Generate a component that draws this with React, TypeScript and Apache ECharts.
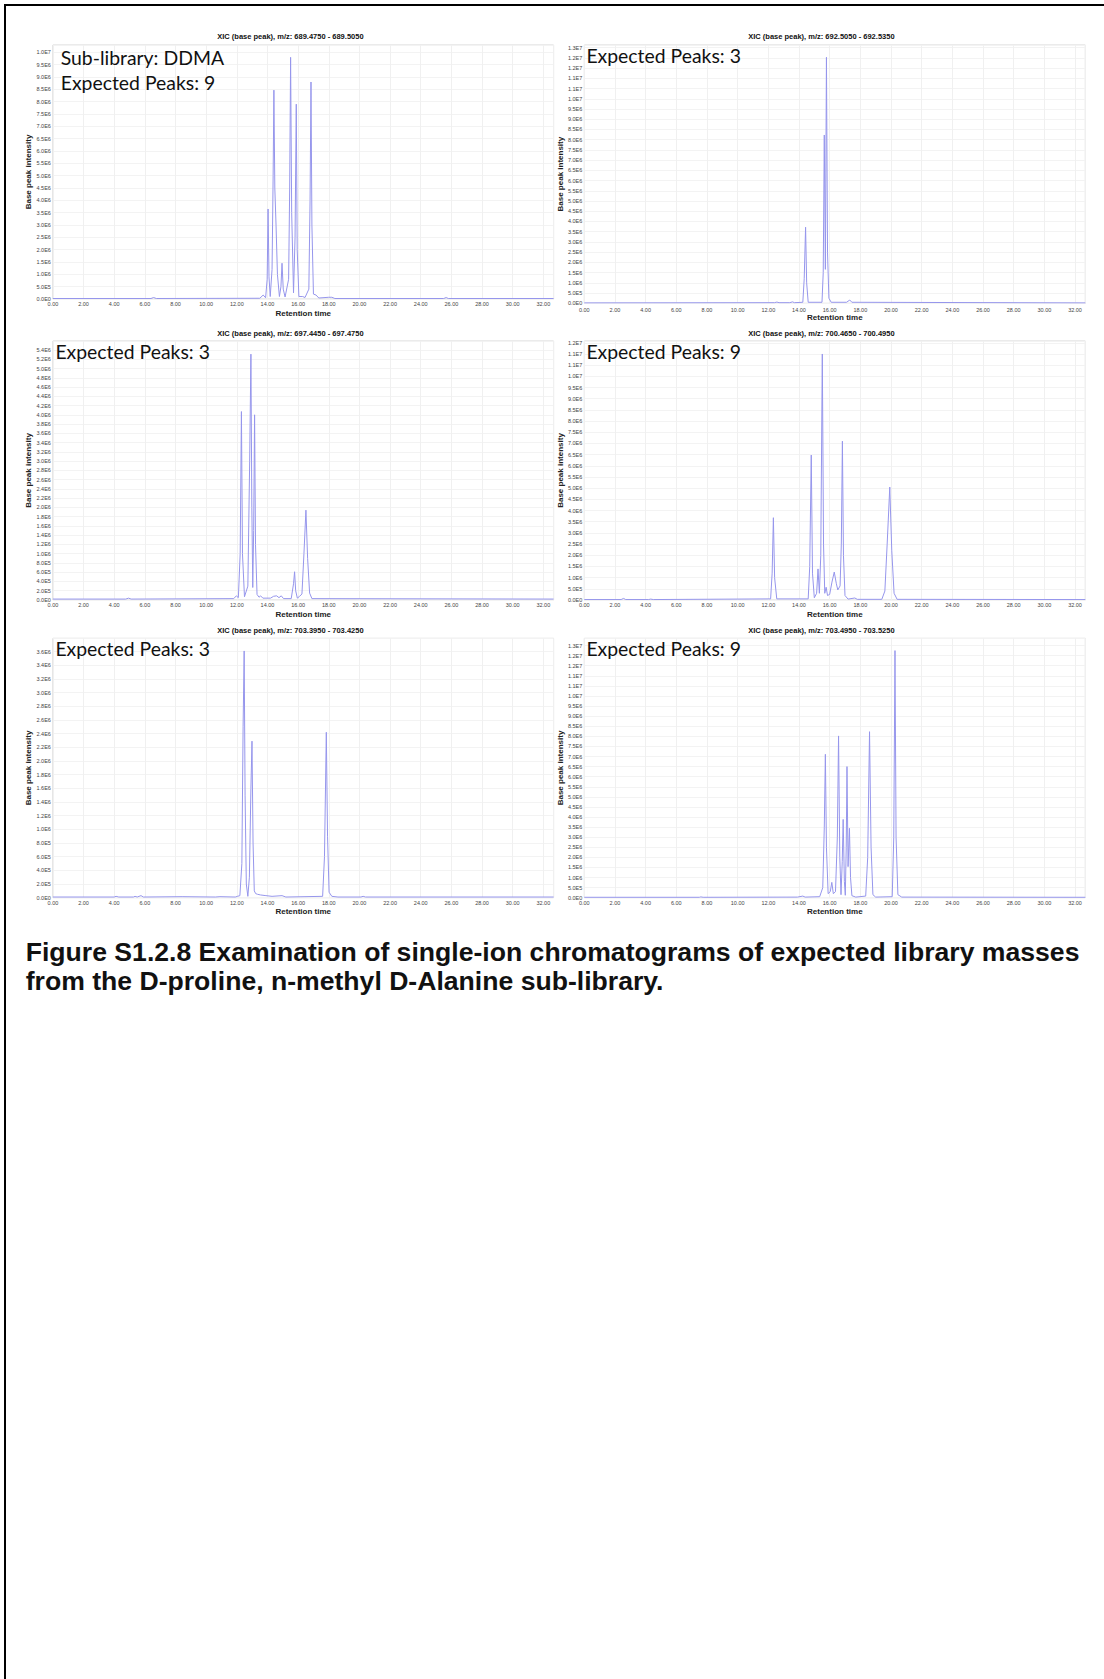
import React, { useEffect, useRef } from 'react';
import * as echarts from 'echarts';

// ---------------- data ----------------
const panelTitles = [
  'XIC (base peak), m/z: 689.4750 - 689.5050',
  'XIC (base peak), m/z: 692.5050 - 692.5350',
  'XIC (base peak), m/z: 697.4450 - 697.4750',
  'XIC (base peak), m/z: 700.4650 - 700.4950',
  'XIC (base peak), m/z: 703.3950 - 703.4250',
  'XIC (base peak), m/z: 703.4950 - 703.5250',
];
const panelNotes = [
  ['Sub-library: DDMA', 'Expected Peaks: 9'],
  ['Expected Peaks: 3'],
  ['Expected Peaks: 3'],
  ['Expected Peaks: 9'],
  ['Expected Peaks: 3'],
  ['Expected Peaks: 9'],
];
const caption = [
  'Figure S1.2.8 Examination of single-ion chromatograms of expected library masses',
  'from the D-proline, n-methyl D-Alanine sub-library.',
];
const xName = 'Retention time';
const yName = 'Base peak intensity';
const xMin = 0;
const xMax = 32.67;
const xStep = 2;
const yMax = [1.03e7, 1.263e7, 5.594e6, 1.158e7, 3.795e6, 1.286e7];
const yStep = [5e5, 5e5, 2e5, 5e5, 2e5, 5e5];

// [retention time, intensity]
const xic689 = [
  [0, 0.02e6], [6.4, 0.02e6], [6.57, 0.06e6], [6.75, 0.02e6], [13.5, 0.03e6], [13.72, 0.16e6],
  [13.88, 0.05e6], [13.98, 0.8e6], [14.04, 3.65e6], [14.1, 0.9e6], [14.18, 0.1e6], [14.3, 1.2e6],
  [14.37, 5.0e6], [14.42, 8.47e6], [14.48, 4.5e6], [14.56, 3.0e6], [14.65, 1.0e6], [14.78, 0.1e6],
  [14.88, 0.5e6], [14.95, 1.45e6], [15.03, 0.4e6], [15.15, 0.08e6], [15.38, 0.8e6], [15.45, 4.5e6],
  [15.51, 9.8e6], [15.58, 3.5e6], [15.7, 0.25e6], [15.8, 2.5e6], [15.88, 7.9e6], [15.94, 2.0e6],
  [16.05, 0.1e6], [16.3, 0.1e6], [16.45, 0.06e6], [16.7, 0.4e6], [16.78, 4.0e6], [16.84, 8.8e6],
  [16.9, 3.0e6], [17.0, 0.2e6], [17.17, 0.16e6], [17.35, 0.04e6], [18.0, 0.07e6], [18.2, 0.07e6],
  [18.4, 0.02e6], [25.5, 0.02e6], [25.66, 0.06e6], [25.8, 0.02e6], [32.67, 0.02e6],
];
const xic692 = [
  [0, 0.02e6], [12.4, 0.03e6], [12.56, 0.06e6], [12.7, 0.03e6], [13.4, 0.03e6], [13.58, 0.07e6],
  [13.7, 0.03e6], [14.25, 0.05e6], [14.34, 1.2e6], [14.43, 3.72e6], [14.5, 1.0e6], [14.6, 0.05e6],
  [15.5, 0.05e6], [15.58, 1.5e6], [15.65, 8.23e6], [15.72, 1.66e6], [15.79, 12.03e6], [15.86, 2.5e6],
  [15.95, 0.25e6], [16.1, 0.05e6], [17.1, 0.05e6], [17.31, 0.16e6], [17.45, 0.05e6], [32.67, 0.02e6],
];
const xic697 = [
  [0, 0.02e6], [4.75, 0.02e6], [4.94, 0.04e6], [5.1, 0.02e6], [11.8, 0.03e6], [11.97, 0.09e6],
  [12.1, 0.05e6], [12.22, 1.0e6], [12.3, 4.07e6], [12.37, 1.0e6], [12.5, 0.07e6], [12.72, 0.3e6],
  [12.84, 3.0e6], [12.92, 5.31e6], [12.98, 2.0e6], [13.04, 0.27e6], [13.1, 1.5e6], [13.16, 4.0e6],
  [13.22, 1.2e6], [13.32, 0.12e6], [13.45, 0.06e6], [13.55, 0.09e6], [13.7, 0.04e6], [14.2, 0.04e6],
  [14.4, 0.08e6], [14.6, 0.09e6], [14.75, 0.05e6], [14.9, 0.09e6], [15.05, 0.03e6], [15.55, 0.03e6],
  [15.7, 0.35e6], [15.77, 0.61e6], [15.84, 0.2e6], [15.95, 0.04e6], [16.1, 0.08e6], [16.25, 0.13e6],
  [16.38, 1.0e6], [16.51, 1.94e6], [16.62, 0.9e6], [16.75, 0.15e6], [16.9, 0.03e6], [32.67, 0.02e6],
];
const xic700 = [
  [0, 0.02e6], [2.4, 0.02e6], [2.56, 0.07e6], [2.7, 0.02e6], [4.2, 0.02e6], [4.33, 0.04e6],
  [4.5, 0.02e6], [12.15, 0.05e6], [12.25, 1.2e6], [12.33, 3.68e6], [12.41, 1.0e6], [12.55, 0.05e6],
  [14.6, 0.05e6], [14.7, 1.5e6], [14.8, 6.48e6], [14.88, 1.2e6], [15.0, 0.1e6], [15.15, 0.3e6],
  [15.24, 1.39e6], [15.33, 0.3e6], [15.42, 2.0e6], [15.52, 11.0e6], [15.6, 2.5e6], [15.68, 0.3e6],
  [15.77, 0.57e6], [15.86, 0.2e6], [16.0, 0.25e6], [16.15, 0.8e6], [16.3, 1.25e6], [16.43, 0.75e6],
  [16.53, 0.45e6], [16.68, 0.63e6], [16.76, 2.5e6], [16.83, 7.1e6], [16.9, 2.0e6], [17.0, 0.2e6],
  [17.2, 0.04e6], [17.64, 0.09e6], [17.8, 0.03e6], [19.4, 0.03e6], [19.6, 0.4e6], [19.75, 2.5e6],
  [19.92, 5.05e6], [20.05, 2.2e6], [20.2, 0.3e6], [20.4, 0.03e6], [32.67, 0.02e6],
];
const xic703a = [
  [0, 0.01e6], [4.0, 0.01e6], [4.12, 0.02e6], [4.3, 0.01e6], [5.25, 0.01e6], [5.36, 0.02e6],
  [5.5, 0.01e6], [5.75, 0.03e6], [5.9, 0.01e6], [8.43, 0.015e6], [10.6, 0.01e6], [10.9, 0.015e6],
  [11.9, 0.01e6], [12.04, 0.02e6], [12.2, 0.03e6], [12.33, 0.5e6], [12.41, 2.5e6], [12.48, 3.61e6],
  [12.54, 1.5e6], [12.62, 0.2e6], [12.72, 0.02e6], [12.82, 0.3e6], [12.92, 1.6e6], [12.99, 2.29e6],
  [13.06, 0.8e6], [13.14, 0.1e6], [13.23, 0.06e6], [13.35, 0.05e6], [13.55, 0.04e6], [13.9, 0.03e6],
  [14.3, 0.02e6], [14.95, 0.03e6], [15.2, 0.01e6], [17.6, 0.02e6], [17.72, 0.6e6], [17.84, 2.42e6],
  [17.92, 0.9e6], [18.02, 0.08e6], [18.2, 0.02e6], [18.6, 0.01e6], [20.1, 0.01e6], [20.24, 0.02e6],
  [20.4, 0.01e6], [32.67, 0.01e6],
];
const xic703b = [
  [0, 0.02e6], [7.5, 0.02e6], [7.6, 0.04e6], [7.75, 0.02e6], [13.9, 0.03e6], [14.25, 0.08e6],
  [14.4, 0.03e6], [15.35, 0.05e6], [15.55, 0.5e6], [15.65, 3.5e6], [15.72, 7.11e6], [15.79, 2.5e6],
  [15.9, 0.2e6], [16.04, 0.3e6], [16.14, 0.76e6], [16.24, 0.2e6], [16.38, 0.3e6], [16.5, 3.0e6],
  [16.58, 8.02e6], [16.66, 2.0e6], [16.74, 0.15e6], [16.82, 1.8e6], [16.88, 3.88e6], [16.96, 0.8e6],
  [17.02, 0.12e6], [17.08, 2.5e6], [17.13, 6.5e6], [17.2, 1.54e6], [17.29, 3.44e6], [17.36, 1.0e6],
  [17.45, 0.1e6], [17.7, 0.03e6], [18.35, 0.08e6], [18.48, 2.0e6], [18.6, 8.23e6], [18.7, 2.5e6],
  [18.82, 0.15e6], [19.0, 0.03e6], [20.08, 0.05e6], [20.18, 3.0e6], [20.26, 12.25e6], [20.33, 3.0e6],
  [20.45, 0.15e6], [20.7, 0.03e6], [32.67, 0.02e6],
];
const panelData = [xic689, xic692, xic697, xic700, xic703a, xic703b];

// ---------------- layout ----------------
const W = 1104;
const H = 1679;
const grids = [
  { left: 52.9, top: 45, width: 500.7, height: 254 },
  { left: 584.3, top: 45, width: 501, height: 258.3 },
  { left: 52.9, top: 341, width: 500.7, height: 259 },
  { left: 584.3, top: 341, width: 501, height: 259 },
  { left: 52.9, top: 638.3, width: 500.7, height: 259.4 },
  { left: 584.3, top: 638.3, width: 501, height: 259.4 },
];
const titlePos = [[290.4, 36.7], [821.4, 36.7], [290.4, 333.3], [821.4, 333.3], [290.4, 630], [821.4, 630]];
const notePos = [[60.7, 57], [586.4, 55], [55.4, 351.7], [586.4, 351.7], [55.4, 648.3], [586.4, 648.3]];
const noteLineGap = 25;

const LINE = '#9696ec';
const SANS = '"Liberation Sans", Arial, sans-serif';

function sci(v: number): string {
  if (v === 0) return '0.0E0';
  const e = Math.floor(Math.log10(v) + 1e-9);
  const m = Math.round((v / Math.pow(10, e)) * 10 + 1e-6) / 10;
  return m.toFixed(1) + 'E' + e;
}

export default function App() {
  const ref = useRef<HTMLDivElement>(null);
  useEffect(() => {
    document.body.style.margin = '0';
    if (!ref.current) return;
    const chart = echarts.init(ref.current, null, { renderer: 'svg', width: W, height: H });

    const graphic: any[] = [
      { type: 'line', shape: { x1: 4, y1: 5, x2: W, y2: 5 }, style: { stroke: '#000', lineWidth: 2 } },
      { type: 'line', shape: { x1: 5, y1: 4, x2: 5, y2: H }, style: { stroke: '#000', lineWidth: 2 } },
    ];
    panelTitles.forEach((t, i) => {
      graphic.push({
        type: 'text', x: titlePos[i][0], y: titlePos[i][1],
        style: { text: t, font: `bold 7.5px ${SANS}`, fill: '#111', textAlign: 'center', textVerticalAlign: 'middle' },
      });
    });
    panelNotes.forEach((lines, i) => {
      lines.forEach((t, j) => {
        graphic.push({
          type: 'text', x: notePos[i][0], y: notePos[i][1] + j * noteLineGap, z: 10,
          style: { text: t, font: `19.4px Lato, "Open Sans", sans-serif`, fill: '#111', textAlign: 'left', textVerticalAlign: 'middle' },
        });
      });
    });
    caption.forEach((t, j) => {
      graphic.push({
        type: 'text', x: 25.7, y: 952 + j * 29,
        style: { text: t, font: `bold 26.6px ${SANS}`, fill: '#111', textAlign: 'left', textVerticalAlign: 'middle' },
      });
    });

    const option: any = {
      animation: false,
      backgroundColor: '#fff',
      grid: grids.map((g) => ({
        ...g, show: true, borderColor: '#d6d6d6', borderWidth: 1, backgroundColor: 'transparent',
        containLabel: false, outerBoundsMode: 'none',
      })),
      xAxis: grids.map((_, i) => ({
        type: 'value', gridIndex: i, min: xMin, max: xMax, interval: xStep,
        name: xName, nameLocation: 'middle', nameGap: 10,
        nameTextStyle: { fontFamily: SANS, fontWeight: 'bold', fontSize: 8, color: '#222' },
        axisLine: { show: false }, axisTick: { show: false },
        axisLabel: {
          fontFamily: SANS, fontSize: 5.5, color: '#444', margin: i === 1 ? 3.3 : 2.3,
          showMaxLabel: false, formatter: (v: number) => v.toFixed(2),
        },
        splitLine: { show: true, lineStyle: { color: '#f0f0f0', width: 1 } },
      })),
      yAxis: grids.map((_, i) => ({
        type: 'value', gridIndex: i, min: 0, max: yMax[i], interval: yStep[i],
        name: yName, nameLocation: 'middle', nameGap: 17.5, nameRotate: 90,
        nameTextStyle: { fontFamily: SANS, fontWeight: 'bold', fontSize: 8, color: '#222' },
        axisLine: { show: false }, axisTick: { show: false },
        axisLabel: { fontFamily: SANS, fontSize: 5.5, color: '#444', margin: 2, showMaxLabel: false, formatter: sci },
        splitLine: { show: true, lineStyle: { color: '#f3f3f3', width: 1 } },
      })),
      series: panelData.map((d, i) => ({
        type: 'line', xAxisIndex: i, yAxisIndex: i, data: d, showSymbol: false, symbol: 'none',
        silent: true, clip: true, lineStyle: { width: 1, color: LINE }, itemStyle: { color: LINE },
      })),
      graphic,
    };
    chart.setOption(option);
    return () => chart.dispose();
  }, []);
  return <div ref={ref} style={{ position: 'absolute', left: 0, top: 0, width: W, height: H, background: '#fff' }} />;
}
